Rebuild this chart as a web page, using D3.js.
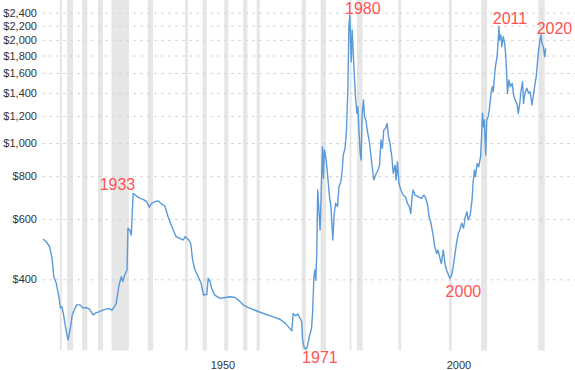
<!DOCTYPE html>
<html lang="en">
<head>
<meta charset="UTF-8">
<title>Gold price, inflation adjusted</title>
<script src="https://d3js.org/d3.v7.min.js"></script>
<style>
  body { margin: 0; background: #fff; }
  svg { display: block; font-family: "Liberation Sans", Arial, sans-serif; }
</style>
</head>
<body>
<div id="chart"></div>
<script>
// monthly-ish readings: decimal year / price (USD, inflation adjusted)
const years = [
  1915.0, 1915.7, 1916.4, 1916.9, 1917.3, 1917.8, 1918.3, 1918.7, 1919.0, 1919.3,
  1919.7, 1920.3, 1920.8, 1921.2, 1921.6, 1922.1, 1922.8, 1923.5, 1924.2, 1924.9,
  1925.6, 1926.3, 1927.0, 1928.1, 1929.1, 1929.6, 1930.5, 1931.1, 1931.6, 1931.9,
  1932.3, 1932.8, 1933.0, 1933.4, 1933.7, 1934.1, 1934.8, 1935.55, 1936.2, 1937.0,
  1937.5, 1938.0, 1938.7, 1939.4, 1939.9, 1940.8, 1941.5, 1942.3, 1943.2, 1944.0,
  1944.7, 1945.1, 1945.8, 1946.3, 1946.7, 1947.2, 1947.9, 1948.5, 1949.0, 1949.7,
  1950.0, 1950.4, 1950.7, 1951.4, 1952.5, 1953.6, 1954.6, 1955.7, 1956.4, 1957.4,
  1958.5, 1959.9, 1961.7, 1963.8, 1965.2, 1966.3, 1967.7, 1968.0, 1968.5, 1969.0,
  1969.45, 1969.8, 1970.0, 1970.3, 1970.7, 1971.0, 1971.4, 1971.9, 1972.1, 1972.4,
  1972.6, 1972.8, 1973.0, 1973.2, 1973.5, 1973.7, 1973.9, 1974.2, 1974.4, 1974.6,
  1974.9, 1975.2, 1975.7, 1976.0, 1976.4, 1976.7, 1977.0, 1977.4, 1977.7, 1978.1,
  1978.4, 1978.6, 1979.0, 1979.3, 1979.6, 1979.8, 1980.0, 1980.3, 1980.5, 1980.7,
  1980.9, 1981.2, 1981.5, 1981.7, 1981.9, 1982.2, 1982.4, 1982.6, 1982.9, 1983.1,
  1983.4, 1983.8, 1984.1, 1984.5, 1984.9, 1985.1, 1985.6, 1986.0, 1986.3, 1986.6,
  1986.9, 1987.2, 1987.6, 1987.9, 1988.2, 1988.5, 1988.9, 1989.2, 1989.6, 1989.8,
  1990.1, 1990.4, 1990.8, 1991.3, 1991.8, 1992.2, 1992.6, 1992.9, 1993.2, 1993.4,
  1993.8, 1994.3, 1994.7, 1995.2, 1995.7, 1996.1, 1996.5, 1996.8, 1997.2, 1997.7,
  1998.0, 1998.4, 1998.7, 1999.1, 1999.4, 1999.8, 2000.2, 2000.5, 2000.9, 2001.2,
  2001.6, 2001.9, 2002.3, 2002.6, 2003.0, 2003.3, 2003.7, 2004.1, 2004.4, 2004.8,
  2005.1, 2005.5, 2005.9, 2006.1, 2006.4, 2006.6, 2007.0, 2007.3, 2007.7, 2007.9,
  2008.1, 2008.3, 2008.5, 2008.8, 2009.0, 2009.3, 2009.5, 2009.7, 2010.0, 2010.2,
  2010.4, 2010.7, 2010.9, 2011.2, 2011.4, 2011.6, 2011.7, 2012.0, 2012.2, 2012.5,
  2012.8, 2013.0, 2013.2, 2013.4, 2013.7, 2014.0, 2014.4, 2014.7, 2015.0, 2015.4,
  2015.7, 2016.0, 2016.3, 2016.6, 2016.8, 2017.1, 2017.5, 2017.9, 2018.2, 2018.6,
  2018.9, 2019.3, 2019.5, 2019.8, 2020.0, 2020.3, 2020.5, 2020.7, 2021.0, 2021.3,
  2021.5
];
const prices = [
  524, 515, 498, 462, 407, 390, 360, 330, 333, 319,
  294, 266, 288, 315, 325, 337, 337, 330, 331, 327,
  315, 320, 322, 327, 329, 325, 340, 385, 407, 394,
  412, 426, 564, 557, 539, 713, 700, 689, 685, 674,
  649, 667, 674, 678, 667, 655, 609, 570, 533, 527,
  521, 533, 523, 509, 455, 426, 407, 389, 360, 362,
  403, 394, 377, 360, 352, 354, 356, 354, 348, 337,
  331, 325, 318, 311, 306, 298, 283, 318, 313, 317,
  308, 301, 266, 254, 250, 254, 272, 288, 318, 407,
  426, 398, 476, 729, 623, 557, 682, 975, 789, 954,
  912, 834, 697, 652, 521, 623, 667, 652, 745, 771,
  834, 922, 965, 1091, 1460, 2184, 2363, 1727, 2136, 1868,
  1633, 1365, 1221, 1276, 1115, 933, 892, 1207, 1335, 1193,
  1167, 1067, 1020, 912, 816, 780, 816, 834, 862, 1020,
  965, 1091, 1104, 1141, 1043, 998, 912, 816, 862, 780,
  882, 763, 729, 705, 697, 667, 652, 623, 697, 729,
  705, 700, 694, 689, 705, 689, 659, 609, 583, 533,
  498, 476, 487, 461, 445, 487, 440, 426, 412, 403,
  412, 435, 476, 510, 545, 557, 583, 564, 603, 630,
  596, 616, 682, 763, 834, 797, 872, 852, 912, 1032,
  1221, 1115, 1167, 922, 1167, 1193, 1234, 1305, 1428, 1460,
  1411, 1597, 1689, 1786, 1954, 2184, 1998, 2066, 1910, 2042,
  1954, 1827, 1633, 1396, 1527, 1460, 1493, 1380, 1335, 1305,
  1221, 1305, 1428, 1509, 1305, 1396, 1444, 1396, 1411, 1291,
  1380, 1509, 1561, 1746, 1868, 1998, 2066, 1954, 1910, 1786,
  1889
];

// US recessions (shaded), decimal years
const recessionStarts = [1918.55, 1920.1, 1923.3, 1926.65, 1929.5, 1937.2, 1945.1, 1948.8, 1953.4, 1957.4,
                         1960.25, 1969.8, 1973.8, 1979.95, 1981.5, 1990.3, 2001.0, 2007.8, 2019.95];
const recessionEnds   = [1919.0, 1921.35, 1924.4, 1927.7, 1933.2, 1938.3, 1945.7, 1949.7, 1954.25, 1958.3,
                         1960.95, 1970.7, 1974.95, 1980.35, 1982.7, 1990.85, 2001.6, 2009.1, 2021.3];

const priceTicks = [400, 600, 800, 1000, 1200, 1400, 1600, 1800, 2000, 2200, 2400];
const yearTicks = [1950, 2000];

// highlighted turning points
const noteLabels = ["1933", "1971", "1980", "2000", "2011", "2020"];
const noteYears  = [1934.1, 1970.7, 1980.0, 2001.2, 2011.6, 2020.5];
const notePrices = [713, 250, 2363, 403, 2184, 2066];

const width = 575, height = 370;
const plotLeft = 42, plotBottom = 350.5;

const svg = d3.select("#chart")
  .append("svg")
  .attr("width", width)
  .attr("height", height);

const x = d3.scaleLinear()
  .domain([1915, 2021.5])
  .range([43, 545.7]);

const y = d3.scaleLog()
  .domain([248, 2614])
  .range([plotBottom, 0]);

// recession shading
svg.append("g")
  .selectAll("rect")
  .data(recessionStarts.map((s, i) => [s, recessionEnds[i]]))
  .enter()
  .append("rect")
  .attr("x", d => x(d[0]))
  .attr("y", 0)
  .attr("width", d => Math.max(1.5, x(d[1]) - x(d[0])))
  .attr("height", plotBottom)
  .attr("fill", "#e6e6e6");

// horizontal grid + price labels
const yAxis = svg.append("g")
  .attr("transform", `translate(${plotLeft},0)`)
  .call(d3.axisLeft(y)
    .tickValues(priceTicks)
    .tickFormat(d3.format("$,"))
    .tickSize(-(width - plotLeft))
    .tickPadding(5));
yAxis.select(".domain").remove();
yAxis.selectAll(".tick line")
  .attr("stroke", "#d6d6d6")
  .attr("stroke-dasharray", "3,4");
yAxis.selectAll(".tick text")
  .attr("fill", "#333")
  .style("font-size", "11px");

// year labels, left aligned on the year start
const xAxis = svg.append("g")
  .attr("transform", `translate(0,${plotBottom})`)
  .call(d3.axisBottom(x)
    .tickValues(yearTicks)
    .tickFormat(d3.format("d"))
    .tickSize(0)
    .tickPadding(11));
xAxis.select(".domain").remove();
xAxis.selectAll(".tick text")
  .attr("text-anchor", "start")
  .attr("dx", 2)
  .attr("fill", "#333")
  .style("font-size", "11px");

// price line
const line = d3.line()
  .x(d => x(d[0]))
  .y(d => y(d[1]));

svg.append("path")
  .datum(years.map((yr, i) => [yr, prices[i]]))
  .attr("d", line)
  .attr("fill", "none")
  .attr("stroke", "#5a9ad8")
  .attr("stroke-width", 1.4)
  .attr("stroke-linejoin", "round");

// red year callouts beside each extreme
const noteOffsets = [[-15.7, -3.3], [14, 14], [13, -1.5], [13.5, 19], [11, -3], [13.5, -1.5]];
svg.append("g")
  .selectAll("text")
  .data(noteLabels)
  .enter()
  .append("text")
  .attr("x", (d, i) => x(noteYears[i]) + noteOffsets[i][0])
  .attr("y", (d, i) => y(notePrices[i]) + noteOffsets[i][1])
  .attr("text-anchor", "middle")
  .attr("fill", "#ff5252")
  .style("font-size", "16px")
  .text(d => d);
</script>
</body>
</html>
